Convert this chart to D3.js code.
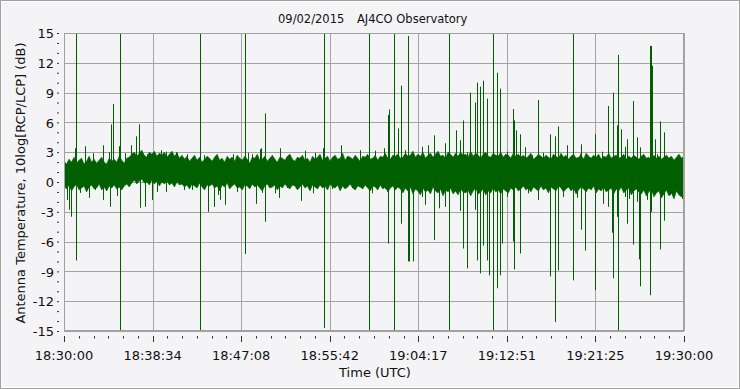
<!DOCTYPE html>
<html><head><meta charset="utf-8">
<script src="https://cdn.jsdelivr.net/npm/d3@7"></script>
<style>
html,body{margin:0;padding:0;background:#f4f4f6;}
svg{display:block;}
text{font-family:"DejaVu Sans",sans-serif;fill:#111;}
</style></head>
<body><svg id="c" width="740" height="389"></svg>
<script>
// ---- data ----
const titleDate = "09/02/2015";
const titleSite = "AJ4CO Observatory";
const yTitle = "Antenna Temperature, 10log[RCP/LCP] (dB)";
const xTitle = "Time (UTC)";
const xTickMinutes = [0, 60/7, 120/7, 180/7, 240/7, 300/7, 360/7, 60];
const xTickLabels = ["18:30:00","18:38:34","18:47:08","18:55:42","19:04:17","19:12:51","19:21:25","19:30:00"];
const yTickValues = [-15,-12,-9,-6,-3,0,3,6,9,12,15];
// noise band envelope (248 bins spanning 0..60 min)
const bandHi = [2.1,1.8,2.3,2.0,2.5,1.9,2.2,2.4,1.8,2.1,2.6,2.0,2.3,1.9,2.2,2.5,2.0,1.8,2.4,2.1,
 2.3,2.0,2.6,2.2,1.9,2.4,2.5,2.8,3.0,2.6,2.9,3.2,2.7,2.5,3.0,2.8,3.1,2.6,2.9,2.7,
 3.0,2.5,2.8,3.1,2.6,2.9,2.4,2.7,2.3,2.6,2.1,2.4,2.7,2.2,2.5,2.0,2.3,2.6,2.4,2.1,
 2.5,2.8,2.2,2.4,2.0,2.6,2.3,2.5,2.1,2.7,2.4,2.2,2.6,2.3,1.9,2.5,2.4,2.8,2.2,2.3,
 2.6,2.1,2.4,2.7,2.3,2.0,2.5,2.4,2.2,2.6,2.8,2.3,2.1,2.5,2.4,2.7,2.2,2.4,2.0,2.6,
 2.3,2.5,2.8,2.2,2.4,2.6,2.1,2.5,2.7,2.3,2.4,2.9,2.2,2.6,2.5,2.3,2.7,2.4,2.1,2.6,
 2.5,2.8,2.3,2.4,2.7,2.2,2.6,2.5,2.9,2.4,2.3,2.7,2.6,2.8,2.4,2.5,2.9,2.6,2.7,3.1,
 2.5,2.8,2.6,3.0,2.4,2.7,2.9,2.5,2.8,3.1,2.6,2.7,2.4,3.0,2.8,2.5,2.9,2.6,3.0,2.7,
 2.8,2.5,3.1,2.6,2.9,2.7,2.4,2.8,3.0,2.6,2.5,2.9,2.7,2.6,3.0,2.5,2.8,2.7,2.4,2.9,
 2.6,2.8,2.5,2.7,2.4,2.6,2.9,2.3,2.5,2.8,2.6,2.4,2.7,2.5,2.3,2.8,2.6,2.4,2.9,2.5,
 2.7,2.3,2.6,2.8,2.4,2.5,2.7,2.3,2.9,2.6,2.4,2.7,2.5,2.8,2.3,2.6,2.5,2.9,2.4,2.6,
 2.7,2.4,2.5,2.8,2.3,2.6,2.4,2.7,2.5,2.3,2.6,2.8,2.4,2.5,2.2,2.7,2.4,2.6,2.3,2.5,
 2.7,2.4,2.6,2.2,2.5,2.8,2.4,2.6];
const bandLo = [-0.4,-0.7,-0.3,-0.9,-0.5,-0.2,-0.8,-0.6,-0.4,-1.0,-0.5,-0.3,-0.7,-0.6,-0.2,-0.8,-0.5,-0.9,-0.4,-0.6,
 -0.3,-0.7,-0.5,-0.8,-0.4,-0.2,-0.5,-0.1,0.2,-0.2,0.1,0.3,-0.1,0.0,-0.3,0.2,-0.2,0.1,-0.4,0.0,
 -0.2,0.1,-0.3,-0.1,-0.5,0.0,-0.3,-0.2,-0.5,-0.3,-0.7,-0.2,-0.4,-0.6,-0.1,-0.5,-0.8,-0.3,-0.4,-0.2,
 -0.6,-0.4,-0.9,-0.3,-0.5,-0.1,-0.7,-0.4,-0.2,-0.6,-0.5,-0.8,-0.3,-0.4,-0.7,-0.2,-0.5,-0.3,-0.6,-0.9,
 -0.4,-0.2,-0.6,-0.5,-0.3,-0.8,-0.4,-0.6,-0.2,-0.5,-0.7,-0.3,-0.4,-0.8,-0.5,-0.2,-0.6,-0.4,-0.9,-0.3,
 -0.5,-0.7,-0.3,-0.6,-0.4,-0.8,-0.2,-0.5,-0.6,-0.3,-0.9,-0.4,-0.7,-0.5,-0.2,-0.6,-0.8,-0.4,-0.5,-0.7,
 -0.3,-0.6,-0.9,-0.4,-0.5,-0.8,-0.3,-0.7,-0.5,-1.0,-0.6,-0.4,-0.8,-0.5,-0.7,-1.1,-0.6,-0.9,-0.5,-1.2,
 -0.7,-0.9,-1.3,-0.6,-1.0,-0.8,-1.2,-0.5,-0.9,-1.1,-0.7,-1.4,-0.8,-1.0,-0.6,-1.2,-0.9,-1.3,-0.7,-1.0,
 -1.1,-0.8,-1.4,-0.9,-0.6,-1.2,-1.0,-0.7,-1.3,-0.9,-1.1,-0.6,-1.0,-0.8,-1.2,-0.7,-0.9,-1.1,-0.6,-0.8,
 -0.5,-0.9,-0.7,-0.4,-0.8,-0.6,-1.0,-0.5,-0.7,-0.9,-0.4,-0.8,-0.6,-1.1,-0.5,-0.7,-0.9,-0.4,-0.6,-1.0,
 -0.7,-0.5,-0.9,-0.6,-1.2,-0.8,-0.5,-0.7,-1.0,-0.6,-0.8,-0.4,-1.1,-0.7,-0.9,-0.5,-1.0,-0.8,-0.6,-1.2,
 -0.7,-0.9,-0.5,-1.1,-0.8,-0.6,-1.3,-0.9,-0.7,-1.0,-1.2,-0.8,-1.4,-1.0,-0.7,-1.5,-1.1,-0.9,-1.6,-1.2,
 -0.8,-1.4,-1.1,-1.7,-0.9,-1.3,-1.5,-1.0];
// spikes: minute, high, low
const spikeMin = [0.26,0.48,0.71,1.06,1.19,1.55,2.06,2.39,2.77,3.0,3.75,3.80,4.35,4.48,4.58,4.77,5.1,5.35,5.45,5.93,6.51,6.97,7.23,7.38,7.87,8.0,8.52,8.97,9.36,9.87,10.81,10.9,11.61,11.87,12.36,13.19,13.55,13.96,14.55,14.94,15.10,15.61,16.39,16.71,17.55,17.77,18.16,18.58,18.97,19.10,19.13,19.48,
 20.42,20.81,20.9,21.55,22.52,22.97,23.32,24.13,24.29,25.10,25.19,25.9,26.81,27.84,28.65,28.81,29.55,29.77,30.1,31.0,31.06,31.35,31.45,31.96,32.35,32.61,33.0,33.32,33.42,33.74,34.6,34.94,35.26,35.81,36.2,36.32,36.87,36.90,37.29,37.94,38.32,38.64,39.03,39.29,39.80,39.99,40.29,40.58,40.96,41.16,41.55,41.93,42.22,42.39,42.84,43.48,43.58,43.74,44.16,44.64,44.94,45.26,45.83,45.9,46.39,47.05,47.53,47.82,48.32,48.65,49.29,49.61,49.94,50.03,50.45,51.42,52.03,52.19,52.67,53.00,53.16,53.48,53.64,53.87,54.29,54.45,54.64,55.10,55.42,55.61,55.77,56.39,56.74,56.84,56.94,57.23,57.35,57.68,58.06,58.65,59.81,59.93];
const spikeHi = [1,1,1,3.4,16,1,3.6,1.5,2.9,1,1,3.7,3.0,1,5.8,7.85,1,3.6,16,2.9,3.7,4.6,5.8,1,1,2.8,1,1,3.2,3.05,3.0,2.95,1,2.8,1,16,2.7,1,1,1,1,1,2.8,1,16,2.95,2.8,1,3.3,3.4,1,6.9,
 1,1,3.4,1,1,1,3.15,1,2.95,3.4,16,1,3.7,1,3.2,1,16,1,3.15,3.4,1,6.75,7.3,16,5.4,9.7,3.2,14.7,1,1,3.55,1,3.7,4.7,2.8,1,1,3.9,16,5.2,4.2,6.2,3.0,9.0,8.0,10.0,9.6,10.2,8.4,2.5,16,11.0,9.4,2.0,3.05,7.35,6.2,5.2,4.8,3.5,1,2.7,8.25,1,2.95,4.8,4.6,5.6,1,3.7,16,1,2.85,3.8,1,4.8,3.05,1,7.65,1,9.0,5.7,12.8,5.3,3.55,4.3,1,8.15,4.5,1,3.5,1,13.7,13.7,11.7,4.3,2.8,6.1,5.0,2.5,1,1];
const spikeLo = [-1.8,-2.8,-3.5,0.5,-7.9,-1.1,0,-1.6,0.5,-0.8,-1.8,0.5,0.5,-2.5,0.5,0.5,-1.4,0.5,-16,0.5,0.5,0.5,0.5,-2.6,-2.5,0.5,-1.8,-1.0,0.5,-1.0,0.5,0.5,-0.8,0.5,-0.8,-16,0.5,-3.0,-2.5,-1.3,-1.8,-2.3,0.5,-1.0,-7.25,0.5,0.5,-2.2,0.5,0.5,-1.1,-4.0,
 -1.14,-1.6,0.5,-0.6,-0.7,-1.9,0.5,-1.14,0.5,0.5,-14.7,-0.7,0.5,-0.6,0.5,-0.7,-16,-1.14,0.5,0.5,-0.7,-6.2,0.5,-16,0.5,-4.2,0.5,-8.0,-8.0,-8.0,-1.5,-2.3,0.5,-5.85,0.5,-2.65,-2.5,-2.0,-16,0.5,-2.9,-6.7,-8.7,-1.0,-2.8,-7.9,-9.2,-6.4,-7.9,-9.4,-16,-10.7,-9.4,-6.2,-1.5,-6.0,-8.8,0.5,-7.2,0.5,-1.14,0.5,-1.8,-1.8,0.5,-9.5,-14.1,-8.9,-1.5,0.5,-9.9,-1.6,0.5,-4.8,-6.9,-10.9,0.5,-2.2,-2.5,-5.1,-9.7,-3.5,-16,0.5,-1.5,-4.2,-1.7,-6.3,-2.0,-7.8,-10.5,-1.8,-11.4,-3,-1,0.5,0.5,-6.8,-3.9,-1.3,-1.7,-1.6];

// ---- layout ----
const L=64,R=684,T=33,B=331;
const green="#006000";
const svg=d3.select("#c");
svg.append("rect").attr("x",0.5).attr("y",0.5).attr("width",739).attr("height",388)
  .attr("fill","#f4f4f6").attr("stroke","#a0a0a0").attr("stroke-width",1);
svg.append("rect").attr("x",1.5).attr("y",1.5).attr("width",737).attr("height",386)
  .attr("fill","none").attr("stroke","#ffffff").attr("stroke-width",1);

const x=d3.scaleLinear().domain([0,60]).range([L,R]);
const y=d3.scaleLinear().domain([-15,15]).range([B,T]);

// grid
const g=svg.append("g");
g.selectAll("line.gy").data(yTickValues).join("line")
  .attr("x1",L).attr("x2",R).attr("y1",d=>Math.round(y(d))+0.5).attr("y2",d=>Math.round(y(d))+0.5)
  .attr("stroke","#a4a4a4").attr("stroke-width",1);
g.selectAll("line.gx").data(xTickMinutes).join("line")
  .attr("y1",T).attr("y2",B).attr("x1",d=>Math.round(x(d))+0.5).attr("x2",d=>Math.round(x(d))+0.5)
  .attr("stroke","#a4a4a4").attr("stroke-width",1);

// clip
svg.append("clipPath").attr("id","pc").append("rect").attr("x",L).attr("y",T).attr("width",R-L).attr("height",B-T);
const plot=svg.append("g").attr("clip-path","url(#pc)");

const bandData=bandHi.map((h,i)=>({t:i*60/(bandHi.length-1),hi:h,lo:bandLo[i]}));
const area=d3.area().x(d=>x(d.t)).y0(d=>y(d.lo)).y1(d=>y(d.hi));
plot.append("path").datum(bandData).attr("d",area).attr("fill",green).attr("stroke",green).attr("stroke-width",0.6);

const spikes=spikeMin.map((t,i)=>({t,hi:spikeHi[i],lo:spikeLo[i]}));
plot.selectAll("line.sp").data(spikes).join("line")
  .attr("x1",d=>Math.round(x(d.t))+0.5).attr("x2",d=>Math.round(x(d.t))+0.5)
  .attr("y1",d=>y(d.hi)).attr("y2",d=>y(d.lo))
  .attr("stroke",green).attr("stroke-width",1);

// axes
const yAxis=d3.axisLeft(y).tickValues(d3.range(-15,16,1)).tickSize(2).tickPadding(3)
  .tickFormat(d=>yTickValues.includes(d)?String(d):"");
const ya=svg.append("g").attr("transform",`translate(${L-5},0)`).call(yAxis);
ya.select(".domain").remove();
ya.selectAll(".tick line").attr("stroke","#333");
ya.selectAll("text").attr("font-size",13).attr("font-family","DejaVu Sans").attr("fill","#111").attr("dy","0.36em");

const minorX=d3.range(0,43).map(i=>i*60/42);
const xa=svg.append("g");
xa.selectAll("line.mn").data(minorX).join("line")
  .attr("x1",d=>Math.round(x(d))+0.5).attr("x2",d=>Math.round(x(d))+0.5)
  .attr("y1",336).attr("y2",d=>(Math.abs((d*7/60)-Math.round(d*7/60))<1e-6)?342:338.5)
  .attr("stroke","#333").attr("stroke-width",1);
xa.selectAll("text").data(xTickMinutes).join("text")
  .attr("x",d=>x(d)).attr("y",360).attr("text-anchor","middle").attr("font-size",13)
  .text((d,i)=>xTickLabels[i]);

// plot border
svg.append("rect").attr("x",L+0.5).attr("y",T+0.5).attr("width",R-L-1).attr("height",B-T-1)
  .attr("fill","none").attr("stroke","#a0a0a0");

// titles
svg.append("text").attr("x",278).attr("y",23).attr("font-size",11.5).text(titleDate);
svg.append("text").attr("x",357).attr("y",23).attr("font-size",11.5).text(titleSite);
svg.append("text").attr("x",375).attr("y",377).attr("text-anchor","middle").attr("font-size",13).text(xTitle);
svg.append("text").attr("transform","translate(25,183) rotate(-90)").attr("text-anchor","middle").attr("font-size",13).text(yTitle);
</script></body></html>
